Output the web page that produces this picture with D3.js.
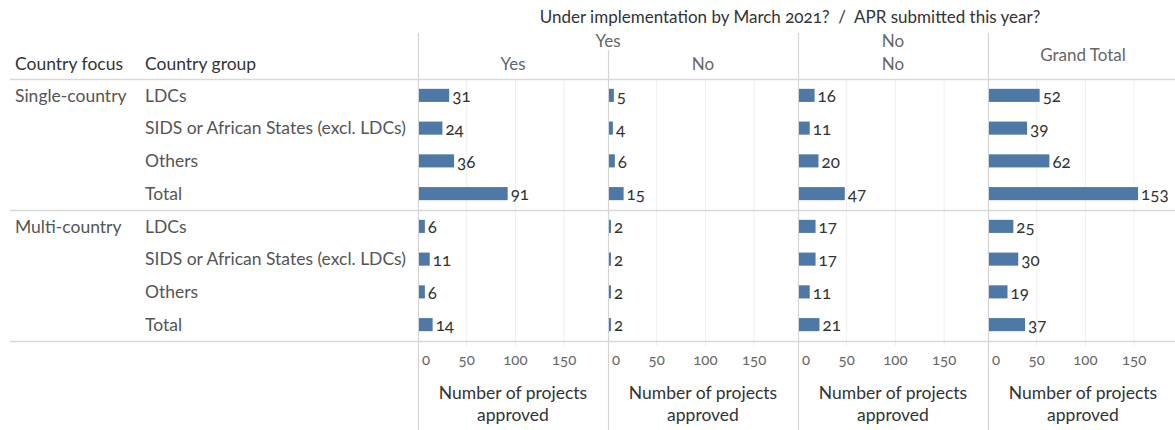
<!DOCTYPE html>
<html>
<head>
<meta charset="utf-8">
<script src="https://cdn.jsdelivr.net/npm/d3@7"></script>
<style>
  body { margin: 0; background: #fff; }
  text { font-family: Lato, "Open Sans", sans-serif; font-variant-numeric: oldstyle-nums; white-space: pre; }
</style>
</head>
<body>
<script>
var width = 1175, height = 430;

// data
var focusGroups = ["Single-country", "Multi-country"];
var countryGroups = ["LDCs", "SIDS or African States (excl. LDCs)", "Others", "Total"];
var panelTop = ["Yes", "Yes", "No", "Grand Total"];
var panelSub = ["Yes", "No", "No", ""];
var yesYes = [31, 24, 36, 91, 6, 11, 6, 14];
var yesNo = [5, 4, 6, 15, 2, 2, 2, 2];
var noNo = [16, 11, 20, 47, 17, 17, 11, 21];
var grandTotal = [52, 39, 62, 153, 25, 30, 19, 37];
var tickValues = [0, 50, 100, 150];

var series = [yesYes, yesNo, noNo, grandTotal];

var svg = d3.select("body").append("svg")
    .attr("width", width)
    .attr("height", height);

var rowsTop = 79, rowsBottom = 341;
var panelLeft = 418, panelWidth = 190;

// row scale over all 8 rows
var rowIds = d3.range(8);
var y = d3.scaleBand()
    .domain(rowIds)
    .range([rowsTop, rowsBottom])
    .paddingInner(0.6)
    .paddingOuter(0.3);

var x = d3.scaleLinear()
    .domain([0, 195])
    .range([0, panelWidth]);

var panelX = d3.scaleBand()
    .domain(d3.range(4))
    .range([panelLeft, panelLeft + panelWidth * 4]);

// title
svg.append("text")
    .attr("x", panelLeft + panelWidth * 2 - 8)
    .attr("y", 23)
    .attr("text-anchor", "middle")
    .attr("font-size", 17)
    .attr("fill", "#333")
    .text("Under implementation by March 2021?  /  APR submitted this year?");

// column headers
svg.append("text").attr("x", 15).attr("y", 70).attr("font-size", 17.5).attr("fill", "#333").text("Country focus");
svg.append("text").attr("x", 145).attr("y", 70).attr("font-size", 17.5).attr("fill", "#333").text("Country group");

svg.append("text").attr("x", panelX(1)).attr("y", 47).attr("text-anchor", "middle")
    .attr("font-size", 17).attr("fill", "#666").text(panelTop[0]);
svg.append("text").attr("x", panelX(2) + panelWidth / 2).attr("y", 47).attr("text-anchor", "middle")
    .attr("font-size", 17).attr("fill", "#666").text(panelTop[2]);
svg.append("text").attr("x", panelX(3) + panelWidth / 2).attr("y", 61).attr("text-anchor", "middle")
    .attr("font-size", 17).attr("fill", "#666").text(panelTop[3]);
[0, 1, 2].forEach(function(i) {
  svg.append("text").attr("x", panelX(i) + panelWidth / 2).attr("y", 70).attr("text-anchor", "middle")
      .attr("font-size", 17).attr("fill", "#666").text(panelSub[i]);
});

// gridlines
var grid = svg.append("g");
d3.range(4).forEach(function(p) {
  grid.selectAll(null)
    .data(tickValues.slice(1))
    .enter().append("line")
      .attr("x1", function(d) { return panelX(p) + x(d); })
      .attr("x2", function(d) { return panelX(p) + x(d); })
      .attr("y1", rowsTop)
      .attr("y2", rowsBottom + 5)
      .attr("stroke", "#efefef")
      .attr("stroke-width", 1);
});

// horizontal dividers
[rowsTop, (rowsTop + rowsBottom) / 2, rowsBottom].forEach(function(yy) {
  svg.append("line")
      .attr("x1", 10).attr("x2", width)
      .attr("y1", yy + 0.5).attr("y2", yy + 0.5)
      .attr("stroke", "#d9d9d9").attr("stroke-width", 1.5);
});

// vertical panel dividers
d3.range(4).forEach(function(p) {
  svg.append("line")
      .attr("x1", panelX(p) + 0.5).attr("x2", panelX(p) + 0.5)
      .attr("y1", p === 1 ? 50 : 33).attr("y2", height)
      .attr("stroke", "#d4d4d4").attr("stroke-width", 1.2);
});

// row labels
focusGroups.forEach(function(f, i) {
  svg.append("text")
      .attr("x", 15)
      .attr("y", y(i * 4) + y.bandwidth() / 2)
      .attr("dy", "0.35em")
      .attr("font-size", 17.5)
      .attr("fill", "#555")
      .text(f);
});
rowIds.forEach(function(r) {
  svg.append("text")
      .attr("x", 145)
      .attr("y", y(r) + y.bandwidth() / 2)
      .attr("dy", "0.35em")
      .attr("font-size", 17.5)
      .attr("fill", "#555")
      .text(countryGroups[r % 4]);
});

// bars and labels
series.forEach(function(vals, p) {
  var g = svg.append("g").attr("transform", "translate(" + panelX(p) + ",0)");
  g.selectAll("rect")
    .data(vals)
    .enter().append("rect")
      .attr("x", 1)
      .attr("y", function(d, i) { return y(i); })
      .attr("width", function(d) { return Math.max(x(d), 1.5); })
      .attr("height", y.bandwidth())
      .attr("fill", "#4e79a7");
  g.selectAll("text")
    .data(vals)
    .enter().append("text")
      .attr("x", function(d) { return Math.max(x(d), 1.5) + 4; })
      .attr("y", function(d, i) { return y(i) + y.bandwidth() / 2; })
      .attr("dy", "0.4em")
      .attr("font-size", 17)
      .attr("fill", "#333")
      .text(function(d) { return d; });

  // axis
  var ax = svg.append("g").attr("transform", "translate(" + panelX(p) + "," + (rowsBottom + 24) + ")");
  ax.selectAll("text")
    .data(tickValues)
    .enter().append("text")
      .attr("x", function(d) { return d === 0 ? 4 : x(d); })
      .attr("text-anchor", function(d) { return d === 0 ? "start" : "middle"; })
      .attr("font-size", 15)
      .attr("fill", "#666")
      .text(function(d) { return d; });

  var title = svg.append("text")
      .attr("x", panelX(p) + panelWidth / 2)
      .attr("y", rowsBottom + 58)
      .attr("text-anchor", "middle")
      .attr("font-size", 17.5)
      .attr("fill", "#333");
  title.append("tspan").attr("x", panelX(p) + panelWidth / 2).text("Number of projects");
  title.append("tspan").attr("x", panelX(p) + panelWidth / 2).attr("dy", 22).text("approved");
});
</script>
</body>
</html>
